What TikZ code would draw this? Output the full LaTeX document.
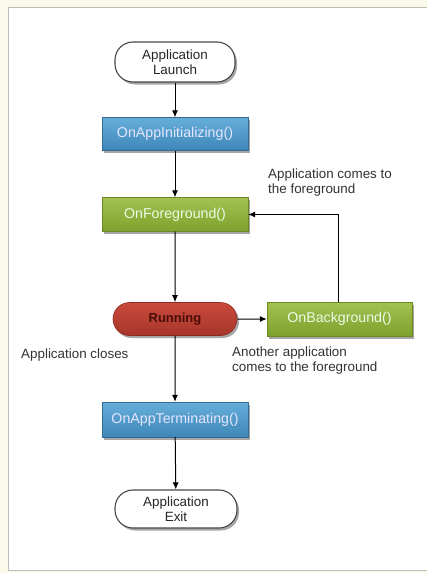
\documentclass[tikz,border=0pt]{standalone}
\usepackage{fontspec}
\setmainfont{Liberation Sans}
\usetikzlibrary{shadows,arrows.meta,shapes.misc}

\definecolor{paper}{HTML}{FBF9EA}
\definecolor{panelline}{HTML}{BDBDB5}
\definecolor{bluetop}{HTML}{66AEDA}
\definecolor{bluebot}{HTML}{3E87B8}
\definecolor{greentop}{HTML}{A2C252}
\definecolor{greenbot}{HTML}{7EA02C}
\definecolor{redtop}{HTML}{C84A3C}
\definecolor{redbot}{HTML}{A8352A}
\definecolor{redline}{HTML}{8C2A20}
\definecolor{redtext}{HTML}{4A0D08}
\definecolor{labeltext}{HTML}{333333}

\tikzset{
  every node/.style={font=\fontsize{13.4}{15}\selectfont},
  boxfont/.style={font=\fontsize{14.2}{16}\selectfont},
  boxshadow/.style={drop shadow={shadow xshift=2pt, shadow yshift=-2.5pt, opacity=0.35, fill=black}},
  terminal/.style={draw=black!72, line width=1.1pt, fill=white, rounded corners=18pt,
    minimum width=120pt, minimum height=40pt, align=center, inner sep=0pt, boxshadow,
    text=black!85},
  bluebox/.style={top color=bluetop, bottom color=bluebot, draw=bluebot!80!black, line width=0.4pt,
    minimum width=146pt, minimum height=33pt, inner sep=0pt, text=white!90!blue, boxfont, boxshadow},
  greenbox/.style={top color=greentop, bottom color=greenbot, draw=greenbot!85!black, line width=0.4pt,
    minimum width=146pt, minimum height=34pt, inner sep=0pt, text=white!90!green, boxfont, boxshadow},
  runbox/.style={top color=redtop, bottom color=redbot, draw=redline, line width=0.6pt, rounded rectangle,
    minimum width=124pt, minimum height=33pt, inner sep=0pt, text=redtext,
    font=\fontsize{13}{15}\selectfont\bfseries, boxshadow},
  flow/.style={draw=black, line width=1pt, -{Latex[length=7pt,width=6pt]}},
  note/.style={anchor=north west, align=left, inner sep=0pt, text=labeltext}
}

\begin{document}
\begin{tikzpicture}[x=1pt,y=-1pt]
  % page background and white panel
  \fill[paper] (0,0) rectangle (427,573);
  \fill[white] (8,7) rectangle (427,570);
  \draw[panelline, line width=0.8pt] (427,7) -- (8,7) -- (8,570) -- (427,570);
  \useasboundingbox (0,0) rectangle (427,573);

  % lifecycle states
  \node[terminal] (launch) at (175,62) {Application\\Launch};
  \node[bluebox] (init) at (175,134) {OnAppInitializing()};
  \node[greenbox] (fore) at (175,214.5) {OnForeground()};
  \node[runbox] (run) at (175,319) {Running};
  \node[greenbox, minimum width=145pt] (back) at (339.5,319) {OnBackground()};
  \node[bluebox, minimum height=35pt] (term) at (175,419.5) {OnAppTerminating()};
  \node[terminal, minimum width=122pt, minimum height=38pt] (exit) at (176,509) {Application\\Exit};

  % transitions
  \draw[flow] (launch) -- (init);
  \draw[flow] (init) -- (fore);
  \draw[flow] (fore) -- (run);
  \draw[flow] (run) -- (back);
  \draw[flow] ([xshift=-1.5pt]back.north) |- (fore.east);
  \draw[flow] (run) -- (term);
  \draw[flow] (term) -- (exit);

  % transition notes
  \node[note] (noteFore) at (268,169) {Application comes to\\the foreground};
  \node[note] (noteBack) at (232,347) {Another application\\comes to the foreground};
  \node[note] (noteClose) at (21,349) {Application closes};
\end{tikzpicture}
\end{document}
